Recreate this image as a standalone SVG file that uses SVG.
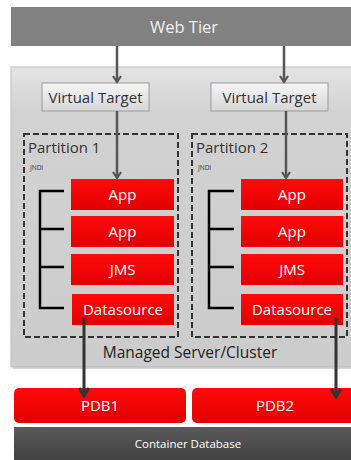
<svg xmlns="http://www.w3.org/2000/svg" width="351" height="460" viewBox="0 0 351 460">
<style>
text{font-family:"Open Sans","Liberation Sans",sans-serif}
.red{fill:url(#gRed)}
.rt{fill:#fff;font-size:15px;text-anchor:middle}
.vt{fill:url(#gVT);stroke:#9a9a9a;stroke-width:1}
.vtt{fill:#333;font-size:15px;text-anchor:middle}
.part{fill:none;stroke:#333;stroke-width:2;stroke-dasharray:6,3}
.pt{fill:#333;font-size:15px}
.jn{fill:#333;font-size:6.5px}
.arr{stroke:#555;stroke-width:2.5;fill:none;marker-end:url(#ah)}
.arr2{stroke:#333;stroke-width:3;fill:none;marker-end:url(#ah2)}
.br{stroke:#000;stroke-width:2.5;fill:none}
</style>
<defs>
<linearGradient id="gRed" x1="0" y1="0" x2="0" y2="1"><stop offset="0" stop-color="#ff0a0a"/><stop offset="1" stop-color="#e00000"/></linearGradient>
<linearGradient id="gVT" x1="0" y1="0" x2="0" y2="1"><stop offset="0" stop-color="#f6f6f6"/><stop offset="1" stop-color="#d6d6d6"/></linearGradient>
<linearGradient id="gMS" x1="0" y1="0" x2="0" y2="1"><stop offset="0" stop-color="#e4e4e4"/><stop offset="0.15" stop-color="#d2d2d2"/><stop offset="1" stop-color="#cccccc"/></linearGradient>
<linearGradient id="gCD" x1="0" y1="0" x2="0" y2="1"><stop offset="0" stop-color="#5a5a5a"/><stop offset="1" stop-color="#3c3c3c"/></linearGradient>
<marker id="ah" markerWidth="10" markerHeight="10" refX="7" refY="5" orient="auto" markerUnits="userSpaceOnUse" viewBox="0 0 10 10"><path d="M1,1 L7,5 L1,9" fill="none" stroke="#555" stroke-width="2.2"/></marker>
<marker id="ah2" markerWidth="12" markerHeight="12" refX="9" refY="6" orient="auto" markerUnits="userSpaceOnUse" viewBox="0 0 12 12"><path d="M1,1 L9,6 L1,11" fill="none" stroke="#333" stroke-width="2.8"/></marker>
</defs>
<rect width="351" height="460" fill="#fff"/>
<g id="web-tier">
<rect x="11" y="7" width="345" height="39" fill="#818181"/>
<text x="184" y="33" fill="#f0f0f0" font-size="16.5" text-anchor="middle">Web Tier</text>
</g>
<g id="managed-server">
<rect x="13" y="69" width="345" height="300" fill="#aaa" opacity="0.5"/>
<rect x="11" y="67" width="345" height="300" fill="url(#gMS)" stroke="#bdbdbd"/>
<text x="190" y="358" fill="#222" font-size="15.5" text-anchor="middle">Managed Server/Cluster</text>
</g>
<g id="vt1"><rect class="vt" x="42" y="83" width="107" height="28"/><text class="vtt" x="95.5" y="102.5">Virtual Target</text></g>
<g id="vt2"><rect class="vt" x="211" y="83" width="117" height="28"/><text class="vtt" x="269.5" y="102.5">Virtual Target</text></g>
<g id="partition1">
<rect class="part" x="24" y="134" width="154" height="203"/>
<text class="pt" x="28" y="153">Partition 1</text>
<text class="jn" x="30" y="170">JNDI</text>
</g>
<g id="partition2">
<rect class="part" x="192" y="134" width="155" height="203"/>
<text class="pt" x="196" y="153">Partition 2</text>
<text class="jn" x="198" y="170">JNDI</text>
</g>
<g id="p1-app1"><rect class="red" x="71" y="179" width="103" height="31"/><text class="rt" x="122.5" y="200">App</text></g>
<g id="p1-app2"><rect class="red" x="71" y="216" width="103" height="31"/><text class="rt" x="122.5" y="237">App</text></g>
<g id="p1-jms"><rect class="red" x="71" y="254" width="103" height="31"/><text class="rt" x="122.5" y="275">JMS</text></g>
<g id="p1-ds"><rect class="red" x="72" y="294" width="102" height="31"/><text class="rt" x="123" y="315">Datasource</text></g>
<g id="p2-app1"><rect class="red" x="241" y="179" width="102" height="31"/><text class="rt" x="292" y="200">App</text></g>
<g id="p2-app2"><rect class="red" x="241" y="216" width="102" height="31"/><text class="rt" x="292" y="237">App</text></g>
<g id="p2-jms"><rect class="red" x="241" y="254" width="102" height="31"/><text class="rt" x="292" y="275">JMS</text></g>
<g id="p2-ds"><rect class="red" x="241" y="294" width="102" height="31"/><text class="rt" x="292" y="315">Datasource</text></g>
<g id="pdb1"><rect class="red" x="14" y="388" width="172" height="35" rx="5"/><text class="rt" x="100" y="411">PDB1</text></g>
<g id="pdb2"><rect class="red" x="192" y="388" width="170" height="35" rx="5"/><text class="rt" x="275" y="411">PDB2</text></g>
<g id="container-db"><rect x="14" y="427" width="345" height="40" fill="url(#gCD)"/><text x="188" y="448" fill="#fff" font-size="11.5" text-anchor="middle">Container Database</text></g>
<g id="connectors">
<path class="arr" d="M117,46 V82"/>
<path class="arr" d="M284,46 V82"/>
<path class="arr" d="M117,111 V178"/>
<path class="arr" d="M286,111 V178"/>
<path class="arr2" d="M84,318 V396"/>
<path class="arr2" d="M336,318 V397"/>
<path class="br" d="M64,191 H40 V308 H64 M40,229 H64 M40,267 H64"/>
<path class="br" d="M234,191 H209 V308 H234 M209,229 H234 M209,267 H234"/>
</g>
</svg>
